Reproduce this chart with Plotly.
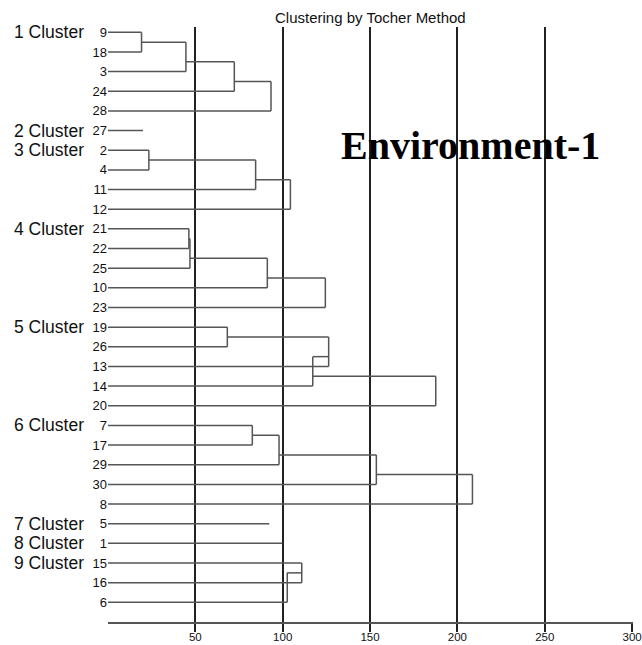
import plotly.graph_objects as go

# ---- data ----
leaf_labels = ["9", "18", "3", "24", "28", "27", "2", "4", "11", "12",
               "21", "22", "25", "10", "23", "19", "26", "13", "14", "20",
               "7", "17", "29", "30", "8", "5", "1", "15", "16", "6"]
cluster_names = ["1 Cluster", "2 Cluster", "3 Cluster", "4 Cluster", "5 Cluster",
                 "6 Cluster", "7 Cluster", "8 Cluster", "9 Cluster"]
cluster_sizes = [5, 1, 4, 5, 5, 5, 1, 1, 3]

# successive merge distances inside each cluster (singletons: line length)
cluster1_heights = [19.2, 44.6, 72.3, 93.3]
cluster2_heights = [20.0]
cluster3_heights = [23.4, 84.5, 104.4]
cluster4_heights = [46.3, 46.9, 91.2, 124.4]
cluster5_heights = [68.3, 126.3, 117.2, 187.6]
cluster6_heights = [82.6, 97.9, 153.6, 208.6]
cluster7_heights = [92.3]
cluster8_heights = [99.9]
cluster9_heights = [110.9, 102.6]

x_ticks = [50, 100, 150, 200, 250, 300]

all_heights = [cluster1_heights, cluster2_heights, cluster3_heights,
               cluster4_heights, cluster5_heights, cluster6_heights,
               cluster7_heights, cluster8_heights, cluster9_heights]

SANS = "Liberation Sans, Arial, sans-serif"
LINE_COLOR = "#555555"

fig = go.Figure()
start = 0
for name, size, hts in zip(cluster_names, cluster_sizes, all_heights):
    rows = list(range(start, start + size))
    xs, ys = [], []
    xs += [0, hts[0], None]
    ys += [rows[0], rows[0], None]
    prev_y = rows[0]
    for k in range(1, size):
        h = hts[k - 1]
        xs += [0, h, None]
        ys += [rows[k], rows[k], None]
        if k >= 2:
            xs += [hts[k - 2], h, None]
            ys += [prev_y, prev_y, None]
        xs += [h, h, None]
        ys += [prev_y, rows[k], None]
        prev_y = rows[k] - 0.5
    fig.add_trace(go.Scatter(x=xs, y=ys, mode="lines",
                             line=dict(color=LINE_COLOR, width=1.5),
                             hoverinfo="skip", showlegend=False))
    fig.add_annotation(text=name, xref="paper", x=-0.183, yref="y", y=rows[0],
                       xanchor="left", yanchor="middle", showarrow=False,
                       font=dict(family=SANS, size=17.5, color="#111111"))
    start += size

fig.add_annotation(text="Clustering by Tocher Method", xref="x", x=150,
                   yref="paper", y=1, yanchor="bottom", yshift=-1, showarrow=False,
                   font=dict(family=SANS, size=15, color="#111111"))
fig.add_annotation(text="<b>Environment-1</b>", xref="x", x=207.3,
                   yref="y", y=5.78, xanchor="center", yanchor="middle",
                   showarrow=False,
                   font=dict(family="Liberation Serif, Times New Roman, serif",
                             size=40, color="#000000"))

fig.update_layout(
    width=642, height=645,
    margin=dict(l=108, r=9, t=27, b=23),
    paper_bgcolor="white", plot_bgcolor="white",
    showlegend=False,
    xaxis=dict(range=[0, 300.5], tickvals=x_ticks,
               ticktext=[str(v) for v in x_ticks],
               ticks="outside", ticklen=8, tickwidth=2, tickcolor="#222222",
               ticklabelstandoff=-5,
               showgrid=True, gridcolor="#222222", gridwidth=2,
               zeroline=False, showline=True, linecolor=LINE_COLOR, linewidth=1.5,
               automargin=False,
               tickfont=dict(family=SANS, size=11.5, color="#111111")),
    yaxis=dict(range=[30, -0.27], tickvals=list(range(len(leaf_labels))),
               ticktext=leaf_labels, ticks="", showgrid=False, zeroline=False,
               showline=False, automargin=False,
               tickfont=dict(family=SANS, size=13, color="#111111")),
)

fig.write_html("out.html",
               config={"displayModeBar": False},
               post_script="document.body.style.margin='0px';"
                           "document.body.style.overflow='hidden';")
